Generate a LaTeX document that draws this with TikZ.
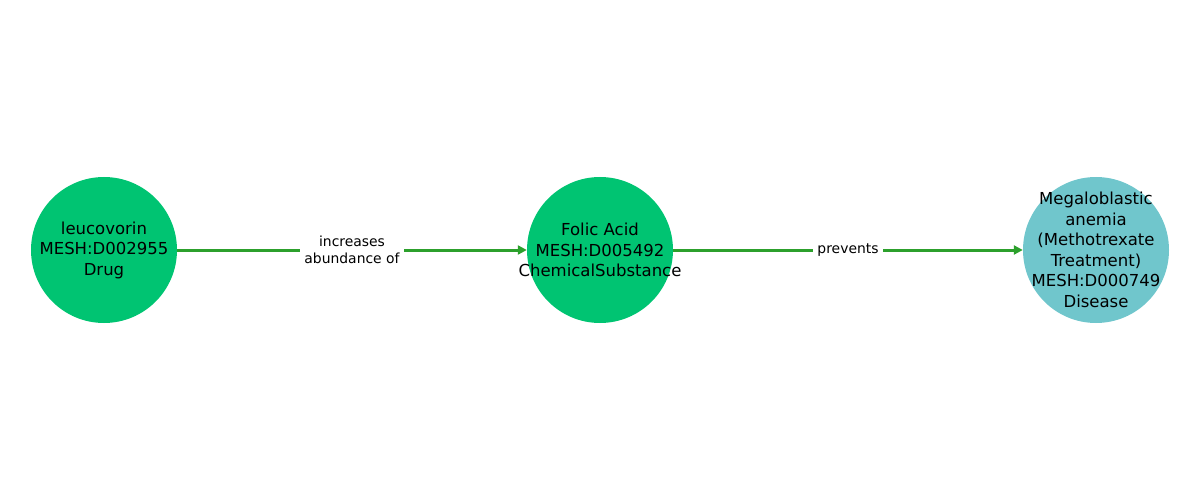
\documentclass[tikz,border=0pt]{standalone}
\usepackage{fontspec}
\setmainfont{DejaVu Sans}
\usetikzlibrary{arrows.meta}
\definecolor{ngreen}{HTML}{00C472}
\definecolor{nblue}{HTML}{70C6CC}
\definecolor{egreen}{HTML}{2CA02C}
\tikzset{
  ent/.style={circle,minimum size=146pt,inner sep=0pt},
  enttext/.style={align=center,font=\fontsize{16.5}{20.5}\selectfont,text=black,inner sep=0pt},
  rel/.style={draw=egreen,line width=3pt,-{Triangle[length=9pt,width=9pt]}},
  lab/.style={fill=white,inner xsep=4pt,inner ysep=2pt,align=center,font=\fontsize{13.9}{16.5}\selectfont,text=black}
}
\begin{document}
\begin{tikzpicture}[x=1pt,y=-1pt]
\useasboundingbox (0,0) rectangle (1200,500);
\node[ent,fill=ngreen] (a) at (104,250) {};
\node[ent,fill=ngreen] (b) at (600,250) {};
\node[ent,fill=nblue] (c) at (1096,250) {};
\node[enttext] (at) at (a.center) {leucovorin\\MESH:D002955\\Drug};
\node[enttext] (bt) at (b.center) {Folic Acid\\MESH:D005492\\ChemicalSubstance};
\node[enttext] (ct) at (c.center) {Megaloblastic\\anemia\\(Methotrexate\\Treatment)\\MESH:D000749\\Disease};
\draw[rel] (a) -- node[lab,pos=0.5] {increases\\abundance of} (b);
\draw[rel] (b) -- node[lab,pos=0.5] {prevents} (c);
\end{tikzpicture}
\end{document}
